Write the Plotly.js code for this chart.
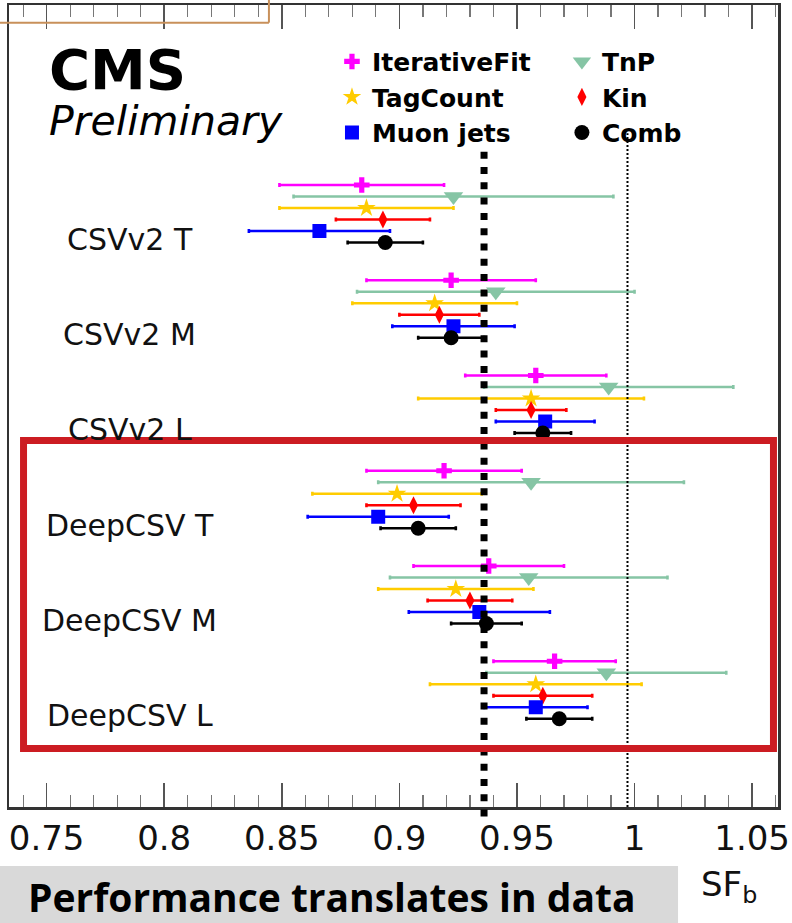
<!DOCTYPE html>
<html>
<head>
<meta charset="utf-8">
<script src="https://cdn.plot.ly/plotly-3.0.1.min.js"></script>
<style>
  html, body { margin: 0; padding: 0; background: #ffffff; }
  #chart { width: 792px; height: 923px; }
</style>
</head>
<body>
<div id="chart"></div>
<script>
// ---- data ----
const categories = ["CSVv2 T", "CSVv2 M", "CSVv2 L", "DeepCSV T", "DeepCSV M", "DeepCSV L"];
const methods = ["IterativeFit", "TnP", "TagCount", "Kin", "Muon jets", "Comb"];

const sfIterativeFit  = [0.884, 0.922, 0.958, 0.919, 0.938, 0.966];
const errIterativeFit = [0.035, 0.036, 0.030, 0.033, 0.032, 0.026];

const sfTnP  = [0.923, 0.941, 0.989, 0.956, 0.955, 0.988];
const errTnP = [0.068, 0.059, 0.053, 0.065, 0.059, 0.051];

const sfTagCount  = [0.886, 0.915, 0.956, 0.899, 0.924, 0.958];
const errTagCount = [0.037, 0.035, 0.048, 0.036, 0.033, 0.045];

const sfKin  = [0.893, 0.917, 0.956, 0.906, 0.930, 0.961];
const errKin = [0.020, 0.017, 0.015, 0.020, 0.018, 0.021];

const sfMuonJets  = [0.866, 0.923, 0.962, 0.891, 0.934, 0.958];
const errMuonJets = [0.030, 0.026, 0.021, 0.030, 0.030, 0.022];

const sfComb  = [0.894, 0.922, 0.961, 0.908, 0.937, 0.968];
const errComb = [0.016, 0.014, 0.012, 0.016, 0.015, 0.014];

const xTickVals = [0.75, 0.8, 0.85, 0.9, 0.95, 1.0, 1.05];
const xTickText = ["0.75", "0.8", "0.85", "0.9", "0.95", "1", "1.05"];

const refDashedX = 0.936;   // thick dashed reference line
const refDottedX = 0.997;   // thin dotted reference line

// ---- build traces ----
const rowStep = 0.1207;  // vertical offset of each method inside a category block
function yFor(methodIndex) {
  return categories.map((c, g) => g + methodIndex * rowStep);
}

const series = [
  { name: "IterativeFit", x: sfIterativeFit, e: errIterativeFit, color: "#ff00ff", symbol: "cross",          size: 13, legend: "legend"  },
  { name: "TnP",          x: sfTnP,          e: errTnP,          color: "#86c5a5", symbol: "triangle-down",  size: 17, legend: "legend2" },
  { name: "TagCount",     x: sfTagCount,     e: errTagCount,     color: "#ffcc00", symbol: "star",           size: 14, legend: "legend"  },
  { name: "Kin",          x: sfKin,          e: errKin,          color: "#ff0000", symbol: "diamond-tall",   size: 13, legend: "legend2" },
  { name: "Muon jets",    x: sfMuonJets,     e: errMuonJets,     color: "#0000ff", symbol: "square",         size: 14, legend: "legend"  },
  { name: "Comb",         x: sfComb,         e: errComb,         color: "#000000", symbol: "circle",         size: 15, legend: "legend2" }
];

const traces = series.map((s, i) => ({
  type: "scatter",
  mode: "markers",
  name: s.name,
  legend: s.legend,
  x: s.x,
  y: yFor(i),
  marker: { color: s.color, symbol: s.symbol, size: s.size, line: { width: 0 } },
  error_x: { type: "data", array: s.e, visible: true, color: s.color, thickness: 2.6, width: 2 },
  hoverinfo: "x+name"
}));

// ---- annotations ----
const annotations = [];
categories.forEach((c, g) => {
  annotations.push({
    text: c, xref: "paper", yref: "y", x: 0.157, y: g + 0.57,
    xanchor: "center", yanchor: "middle", showarrow: false,
    font: { family: "DejaVu Sans", size: 30, color: "#111111" }
  });
});
annotations.push({
  text: "<b>CMS</b>", xref: "paper", yref: "paper", x: 0.049, y: 0.920,
  xanchor: "left", yanchor: "middle", showarrow: false,
  font: { family: "DejaVu Sans", size: 56, color: "#000000" }
});
annotations.push({
  text: "<i>Preliminary</i>", xref: "paper", yref: "paper", x: 0.049, y: 0.855,
  xanchor: "left", yanchor: "middle", showarrow: false,
  font: { family: "DejaVu Sans", size: 41, color: "#000000" }
});
annotations.push({
  text: "SF<sub>b</sub>", xref: "paper", yref: "paper", x: 0.897, y: -0.099,
  xanchor: "left", yanchor: "middle", showarrow: false,
  font: { family: "DejaVu Sans", size: 34, color: "#111111" }
});
annotations.push({
  text: "<b>Performance translates in data</b>", xref: "paper", yref: "paper", x: 0.42, y: -0.112,
  xanchor: "center", yanchor: "middle", showarrow: false,
  font: { family: "Open Sans", size: 39, color: "#000000" }
});

// ---- shapes ----
const shapes = [
  // gray caption box
  { type: "rect", xref: "paper", yref: "paper", x0: -0.02, x1: 0.870, y0: -0.16, y1: -0.0736,
    fillcolor: "#d9d9d9", line: { width: 0 }, layer: "below" },
  // thick dashed vertical line
  { type: "line", xref: "x", yref: "paper", x0: refDashedX, x1: refDashedX, y0: -0.012, y1: 0.822,
    line: { color: "#000000", width: 7, dash: "7px,8.3px" } },
  // thin dotted vertical line
  { type: "line", xref: "x", yref: "paper", x0: refDottedX, x1: refDottedX, y0: 0.0, y1: 0.84,
    line: { color: "#000000", width: 2, dash: "2px,2px" } },
  // red highlight box
  { type: "rect", xref: "paper", yref: "paper", x0: 0.0189, x1: 0.9941, y0: 0.0729, y1: 0.457,
    line: { color: "#cc1c22", width: 7 }, fillcolor: "rgba(0,0,0,0)" },
  // tan partial box at top-left
  { type: "line", xref: "paper", yref: "paper", x0: -0.02, x1: 0.338, y0: 0.978, y1: 0.978,
    line: { color: "#c8905a", width: 2 } },
  { type: "line", xref: "paper", yref: "paper", x0: 0.338, x1: 0.338, y0: 0.978, y1: 1.01,
    line: { color: "#c8905a", width: 2 } }
];

const legendFont = { family: "DejaVu Sans", size: 25, color: "#000000", weight: "bold" };

const layout = {
  width: 792,
  height: 923,
  margin: { l: 9, r: 14, t: 5, b: 116 },
  paper_bgcolor: "#ffffff",
  plot_bgcolor: "#ffffff",
  showlegend: true,
  xaxis: {
    range: [0.734, 1.061],
    tickmode: "array",
    tickvals: xTickVals,
    ticktext: xTickText,
    ticks: "inside",
    ticklen: 24,
    tickwidth: 1.5,
    tickcolor: "#555555",
    minor: { dtick: 0.01, tick0: 0.75, ticks: "inside", ticklen: 12, tickwidth: 1.2, tickcolor: "#777777", showgrid: false },
    showline: true,
    linecolor: "#333333",
    linewidth: 2.5,
    mirror: "ticks",
    showgrid: false,
    zeroline: false,
    ticklabelstandoff: 0,
    tickfont: { family: "DejaVu Sans", size: 34, color: "#111111" }
  },
  yaxis: {
    range: [6.53, -1.89],
    showticklabels: false,
    ticks: "",
    showline: true,
    linecolor: "#333333",
    linewidth: 2.5,
    mirror: true,
    showgrid: false,
    zeroline: false
  },
  legend: {
    x: 0.42, y: 0.958, xanchor: "left", yanchor: "top",
    orientation: "v", bgcolor: "rgba(0,0,0,0)", borderwidth: 0,
    font: legendFont, itemwidth: 30, tracegroupgap: 0
  },
  legend2: {
    x: 0.719, y: 0.958, xanchor: "left", yanchor: "top",
    orientation: "v", bgcolor: "rgba(0,0,0,0)", borderwidth: 0,
    font: legendFont, itemwidth: 30, tracegroupgap: 0
  },
  annotations: annotations,
  shapes: shapes
};

Plotly.newPlot("chart", traces, layout, { staticPlot: true, displayModeBar: false });
</script>
</body>
</html>
